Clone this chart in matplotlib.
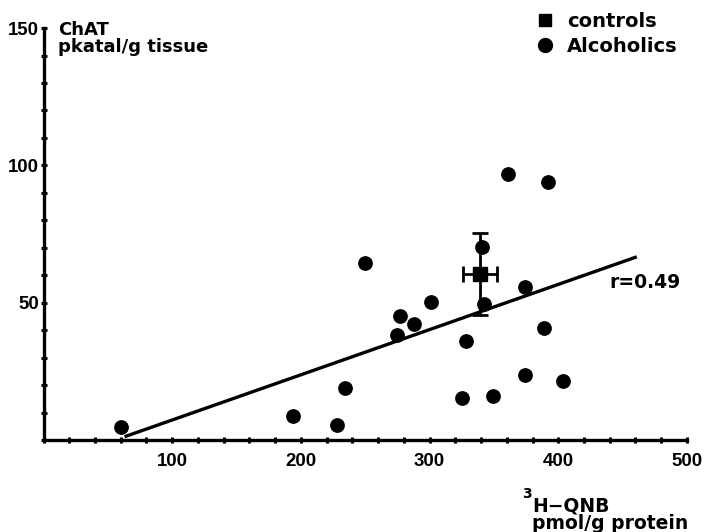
import matplotlib
matplotlib.use('Agg')
import matplotlib.pyplot as plt
from matplotlib.lines import Line2D

plt.rcParams['font.family'] = ['DejaVu Sans']
plt.rcParams['font.weight'] = 'bold'

# alcoholics: 3H-QNB (pmol/g protein) vs ChAT (pkatal/g tissue)
alc_x = [60, 194, 228, 234, 250, 275, 277, 288, 301, 325,
         328, 342, 341, 349, 361, 374, 374, 389, 392, 404]
alc_y = [4.6, 8.8, 5.5, 19.0, 64.3, 38.2, 45.1, 42.1, 50.3, 15.2,
         36.1, 49.5, 70.4, 16.1, 96.8, 23.6, 55.8, 40.9, 94.0, 21.5]

# controls mean +- sem
ctrl_x = [339]
ctrl_y = [60.4]
ctrl_xerr = [13]
ctrl_yerr = [15]

# regression line
fit_x = [63, 461]
fit_y = [1.2, 66.7]
r_label = 'r=0.49'

x_major = [100, 200, 300, 400, 500]
y_major = [50, 100, 150]

fig = plt.figure(figsize=(7.11, 5.32), dpi=100)
ax = fig.add_axes([0.0612, 0.1729, 0.905, 0.7744])
ax.set_xlim(0, 500)
ax.set_ylim(0, 150)

for s in ['top', 'right']:
    ax.spines[s].set_visible(False)
for s in ['left', 'bottom']:
    ax.spines[s].set_linewidth(2.4)

ax.plot(fit_x, fit_y, color='black', lw=2.4, solid_capstyle='butt')
ax.plot(alc_x, alc_y, 'o', ms=9.6, color='black', clip_on=False)
ax.errorbar(ctrl_x, ctrl_y, xerr=ctrl_xerr, yerr=ctrl_yerr, fmt='s', ms=9.5,
            color='black', elinewidth=2, capsize=6, capthick=2)

ax.text(440, 55.5, r_label, fontsize=13.5, va='baseline')

ax.set_xticks(x_major)
ax.set_xticks(range(0, 501, 20), minor=True)
ax.set_yticks(y_major)
ax.set_yticks(range(0, 151, 10), minor=True)
ax.tick_params(which='both', direction='inout', length=4.5, width=2.2, color='black')
ax.tick_params(axis='x', which='major', pad=7)
ax.tick_params(axis='y', which='major', pad=1)
ax.tick_params(labelsize=13.4, labelfontfamily='Liberation Sans')

# axis titles
fig.text(58 / 711, 1 - 21 / 532, 'ChAT\npkatal/g tissue', fontsize=13,
         va='top', linespacing=0.95)
fig.text(522 / 711, 1 - 498 / 532, '3', fontsize=10, va='baseline')
fig.text(532 / 711, 1 - 496 / 532, 'H\u2212QNB\npmol/g protein', fontsize=13.5,
         va='top', linespacing=0.95)

handles = [Line2D([], [], marker='s', ls='none', color='black', ms=9),
           Line2D([], [], marker='o', ls='none', color='black', ms=10)]
ax.legend(handles, ['controls', 'Alcoholics'], loc='upper left',
          bbox_to_anchor=(538 / 711, 1 - 12 / 532), bbox_transform=fig.transFigure,
          frameon=False, fontsize=14, handlelength=0.7, handletextpad=0.8,
          borderpad=0, borderaxespad=0, labelspacing=0.3)

fig.savefig('out.png', dpi=100)
